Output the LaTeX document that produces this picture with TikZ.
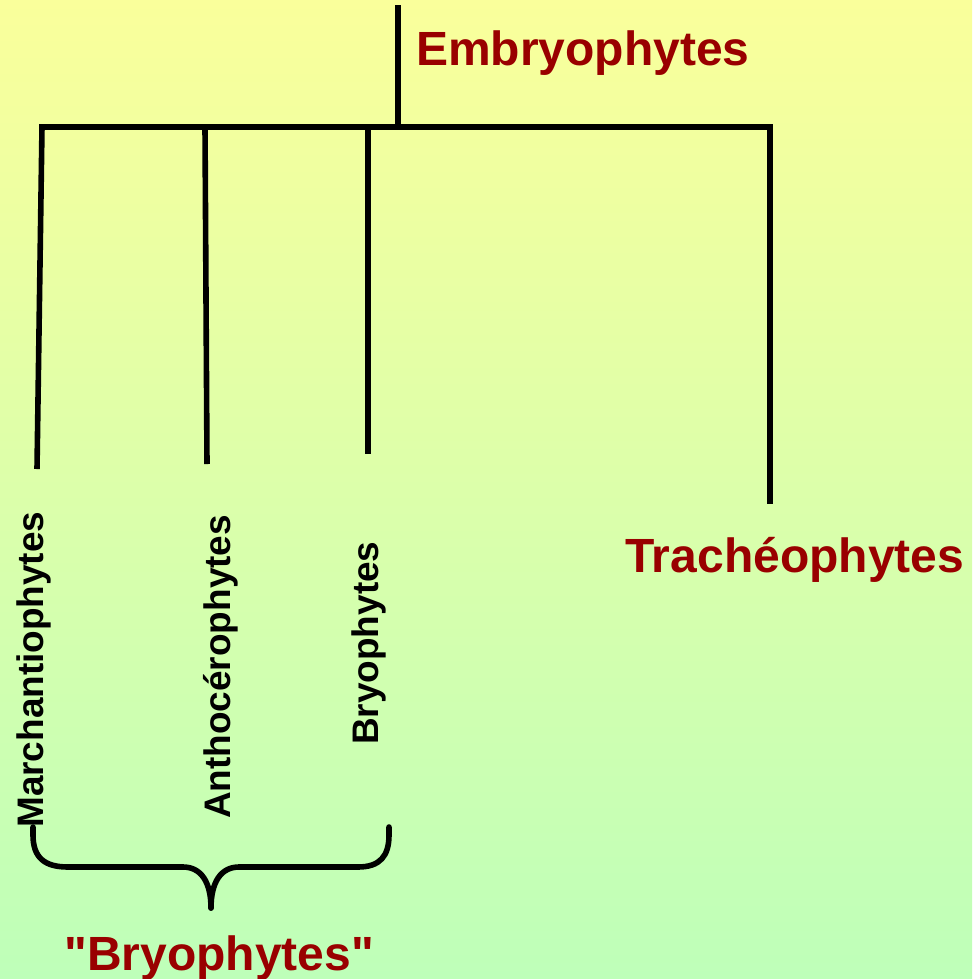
\documentclass[tikz,border=0pt]{standalone}
\usepackage{fontspec}
\setmainfont{Liberation Sans}
\newfontfamily\labelfont{Liberation Sans}[Ligatures=ResetAll]
\definecolor{bgtop}{RGB}{250,255,155}
\definecolor{bgbot}{RGB}{190,255,185}
\definecolor{darkred}{RGB}{153,0,0}
\tikzset{
  branch/.style={line width=4.2pt, black},
  bigred/.style={text=darkred, font=\labelfont\fontsize{36}{40}\selectfont\bfseries, inner sep=0pt},
  taxon/.style={text=black, font=\labelfont\fontsize{27.7}{32}\selectfont\bfseries, inner sep=0pt, rotate=90, anchor=base west},
  bracestyle/.style={line width=4.2pt, black, line cap=round, line join=round}
}
\begin{document}
\begin{tikzpicture}[x=0.75pt, y=-0.75pt]
\shade[top color=bgtop, bottom color=bgbot] (0,0) rectangle (972,979);
\useasboundingbox (0,0) rectangle (972,979);

% tree coordinates
\coordinate (rootTop) at (398,5);
\coordinate (root) at (398,127);
\coordinate (hL) at (39,127);
\coordinate (hR) at (773,127);
\coordinate (mTop) at (42,127);
\coordinate (mEnd) at (37,469);
\coordinate (aTop) at (205,127);
\coordinate (aEnd) at (207,464);
\coordinate (bTop) at (368,127);
\coordinate (bEnd) at (368,454);
\coordinate (tTop) at (770,127);
\coordinate (tEnd) at (770,504);

\draw[branch] (rootTop) -- (root);
\draw[branch] (hL) -- (hR);
\draw[branch] (mTop) -- (mEnd);
\draw[branch] (aTop) -- (aEnd);
\draw[branch] (bTop) -- (bEnd);
\draw[branch] (tTop) -- (tEnd);

% labels
\node[bigred, anchor=base west] (embryo) at (416,65) {Embryophytes};
\node[bigred, anchor=base west] (tracheo) at (625,572) {Trachéophytes};
\node[bigred, anchor=base west] (bryoGroup) at (64,970) {"Bryophytes"};

\node[taxon] (marchantio) at (43,828) {Marchantiophytes};
\node[taxon] (anthocero) at (230,819) {Anthocérophytes};
\node[taxon] (bryo) at (378,745) {Bryophytes};

% brace
\coordinate (brL) at (33,827);
\coordinate (brTip) at (211,908);
\coordinate (brR) at (389,827);
\draw[bracestyle] (brL) -- (33,835) .. controls (33,858) and (45,867) .. (68,867) -- (183,867)
  .. controls (201,867) and (211,882) .. (brTip);
\draw[bracestyle] (brTip) .. controls (211,882) and (221,867) .. (239,867) -- (358,867)
  .. controls (380,867) and (389,856) .. (389,835) -- (brR);
\end{tikzpicture}
\end{document}
